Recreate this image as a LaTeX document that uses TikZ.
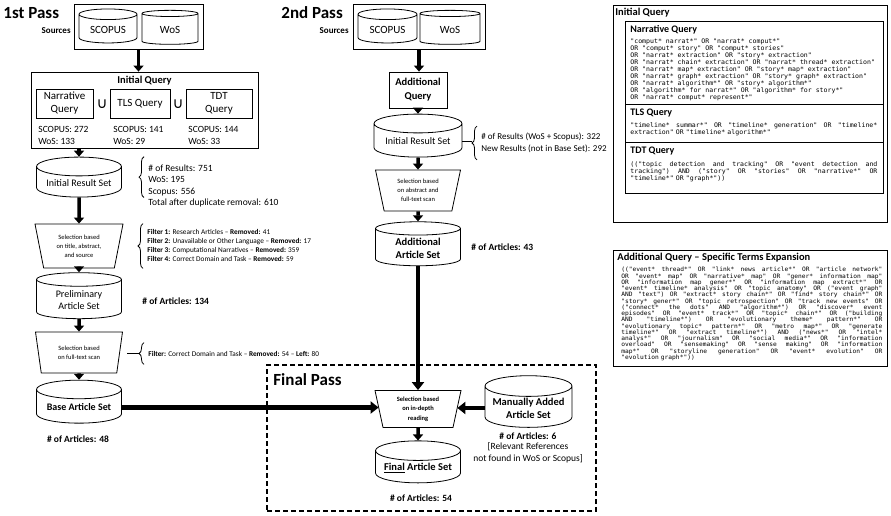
\documentclass[tikz,border=0pt]{standalone}
\usepackage{fontspec}
\setmainfont{Carlito}
\setmonofont{DejaVu Sans Mono}[FakeStretch=1.04]
\newfontfamily\cupfont{DejaVu Sans}
\usetikzlibrary{shapes.geometric,arrows.meta,decorations.pathreplacing,fit}

\newcommand{\fs}[2]{\fontsize{#1}{#2}\selectfont}
\newcommand{\qline}[1]{\leavevmode\hbox to \linewidth{\spaceskip=.6em plus 1fil\xspaceskip=\spaceskip\relax #1}}

\tikzset{
  dbset/.style={cylinder, shape border rotate=90, aspect=0.28, draw, align=center, inner sep=1pt, font=\fs{10}{12}},
  selbox/.style={trapezium, shape border rotate=180, trapezium stretches body, draw, align=center, inner sep=0pt, font=\fs{6.5}{9}},
  qbox/.style={draw, align=center, inner sep=1pt, minimum height=29, font=\fs{11}{13}},
  cupsym/.style={inner sep=0pt, font=\cupfont\fs{15}{15}},
  cntlabel/.style={anchor=west, align=left, inner sep=0pt, font=\fs{9.5}{11.5}},
  infotext/.style={align=left, inner sep=0pt, font=\fs{9.5}{11.5}},
  filtext/.style={align=left, inner sep=0pt, font=\fs{7.3}{9.2}},
  boldinfo/.style={inner sep=0pt, font=\bfseries\fs{9.5}{11.5}},
  passtitle/.style={anchor=west, inner sep=0pt, font=\bfseries\fs{17}{20}},
  srclabel/.style={anchor=east, inner sep=0pt, font=\bfseries\fs{9}{11}},
  qtitle/.style={anchor=west, inner sep=0pt, font=\bfseries\fs{10}{12}},
  qrytext/.style={anchor=north west, align=left, inner sep=0pt, font=\ttfamily\fs{6.3}{7}},
  flowarrow/.style={-{Triangle[length=6pt,width=10pt]}, line width=3.5pt},
  bigarrow/.style={-{Triangle[length=8pt,width=12pt]}, line width=4.5pt},
  infobrace/.style={decorate, decoration={brace, amplitude=5pt}},
  finalframe/.style={draw, line width=1.6pt, dash pattern=on 5pt off 3pt},
}

\begin{document}
\begin{tikzpicture}[x=1pt, y=-1pt, line width=0.8pt]
\useasboundingbox (0,0) rectangle (891,516);

% 1st pass
\node[passtitle] (pass1) at (3,13) {1st Pass};
\node[srclabel] (srclbl1) at (71,31) {Sources};
\node[dbset, minimum width=58, minimum height=34, font=\fs{11}{13}] (scopus1) at (108,29.5) {SCOPUS};
\node[dbset, minimum width=56, minimum height=34, font=\fs{11}{13}] (wos1) at (170,29.5) {WoS};
\node[draw, fit=(scopus1)(wos1), inner sep=4.5pt] (src1) {};

\node[draw, minimum width=227, minimum height=76] (iq1) at (144.5,110) {};
\node[font=\bfseries\fs{10.5}{12}, inner sep=0pt] (iq1title) at (144.5,81) {Initial Query};
\node[qbox, minimum width=57] (narr1) at (64.5,103.5) {Narrative\\Query};
\node[cupsym] (cup1) at (102,104) {∪};
\node[qbox, minimum width=60] (tls1) at (140,103.5) {TLS Query};
\node[cupsym] (cup2) at (178,104) {∪};
\node[qbox, minimum width=66] (tdt1) at (219,103.5) {TDT\\Query};
\node[cntlabel] (narr1cnt) at (38,135.5) {SCOPUS: 272\\WoS: 133};
\node[cntlabel] (tls1cnt) at (113,135.5) {SCOPUS: 141\\WoS: 29};
\node[cntlabel] (tdt1cnt) at (188,135.5) {SCOPUS: 144\\WoS: 33};

\node[dbset, minimum width=85, minimum height=40] (res1) at (79,183) {Initial Result Set};
\node[selbox, trapezium angle=69, minimum width=88, minimum height=44] (selta) at (79,246) {Selection based\\on title, abstract,\\and source};
\node[dbset, minimum width=85, minimum height=46] (pre1) at (79,300) {Preliminary\\Article Set};
\node[selbox, trapezium angle=67, minimum width=87, minimum height=41] (selft) at (79,352.5) {Selection based\\on full-text scan};
\node[dbset, font=\bfseries\fs{10}{12}, minimum width=85, minimum height=43] (base1) at (79,407.5) {Base Article Set};
\node[boldinfo] (base1cnt) at (78,439) {\# of Articles: 48};

\node[infotext, anchor=west] (res1info) at (148,186) {\# of Results: 751\\WoS: 195\\Scopus: 556\\Total after duplicate removal: 610};
\node[filtext, anchor=west] (seltainfo) at (147,245.5) {\textbf{Filter 1:} Research Articles -- \textbf{Removed:} 41\\
  \textbf{Filter 2:} Unavailable or Other Language -- \textbf{Removed:} 17\\
  \textbf{Filter 3:} Computational Narratives -- \textbf{Removed:} 359\\
  \textbf{Filter 4:} Correct Domain and Task -- \textbf{Removed:} 59};
\node[boldinfo, anchor=west] (pre1cnt) at (142,301) {\# of Articles: 134};
\node[filtext, anchor=west, minimum height=21] (selftinfo) at (148,353.5) {\textbf{Filter:} Correct Domain and Task -- \textbf{Removed:} 54 -- \textbf{Left:} 80};

\draw[infobrace] ([xshift=-4pt]res1info.west |- res1.south) -- ([xshift=-4pt]res1info.west |- res1.north);
\draw[infobrace] ([xshift=-4pt]seltainfo.west |- selta.south) -- ([xshift=-4pt]seltainfo.west |- selta.north);
\draw[infobrace] ([xshift=-4pt]selftinfo.south west) -- ([xshift=-4pt]selftinfo.north west);
\coordinate (selftstub) at (127,353.5);
\draw (selftstub) -- ([xshift=-9pt]selftinfo.west);

\draw[flowarrow] (src1.south) -- (src1.south |- iq1.north);
\draw[flowarrow] (res1.north |- iq1.south) -- (res1.north);
\draw[flowarrow] (res1.south) -- (selta.north);
\draw[flowarrow] (selta.south) -- (pre1.north);
\draw[flowarrow] (pre1.south) -- (selft.north);
\draw[flowarrow] (selft.south) -- (base1.north);

% 2nd pass
\node[passtitle] (pass2) at (281,13) {2nd Pass};
\node[srclabel] (srclbl2) at (349,31) {Sources};
\node[dbset, minimum width=59, minimum height=34, font=\fs{11}{13}] (scopus2) at (387.5,29.5) {SCOPUS};
\node[dbset, minimum width=60, minimum height=34, font=\fs{11}{13}] (wos2) at (450,29.5) {WoS};
\node[draw, fit=(scopus2)(wos2), inner sep=4.5pt] (src2) {};
\node[qbox, font=\bfseries\fs{10.5}{14}, minimum width=58, minimum height=36] (aq2) at (418,90) {Additional\\Query};
\node[dbset, minimum width=88, minimum height=43] (res2) at (418,141.5) {Initial Result Set};
\node[infotext, anchor=west, minimum height=33, font=\fs{9}{11.5}] (res2info) at (481,143) {\# of Results (WoS + Scopus): 322\\New Results (not in Base Set): 292};
\coordinate (res2tip) at ([xshift=-9pt]res2info.west);
\draw[infobrace] ([xshift=-4pt]res2info.south west) -- ([xshift=-4pt]res2info.north west);
\draw (res2.east) -- (res2.east -| res2tip);
\node[selbox, trapezium angle=69, minimum width=85, minimum height=41] (selab) at (418,190.5) {Selection based\\on abstract and\\full-text scan};
\node[dbset, font=\bfseries\fs{10.5}{13}, minimum width=85, minimum height=44] (add2) at (418,248) {Additional\\Article Set};
\node[boldinfo, anchor=west] (add2cnt) at (471,247) {\# of Articles: 43};

\draw[flowarrow] (src2.south) -- (src2.south |- aq2.north);
\draw[flowarrow] (aq2.south) -- (res2.north);
\draw[flowarrow] (res2.south) -- (selab.north);
\draw[flowarrow] (selab.south) -- (add2.north);

% final pass
\node[finalframe, minimum width=329, minimum height=146] (finalbox) at (431.5,438) {};
\node[passtitle] (passfin) at (273,380) {Final Pass};
\node[selbox, font=\bfseries\fs{6.5}{9.5}, trapezium angle=72, minimum width=86, minimum height=37] (selid) at (418,409) {Selection based\\on in-depth\\reading};
\node[dbset, font=\bfseries\fs{10.5}{13}, minimum width=87, minimum height=41] (man3) at (528.5,408) {Manually Added\\Article Set};
\node[boldinfo] (man3cnt) at (528,436) {\# of Articles: 6};
\node[infotext, align=center] (man3note) at (528,453) {[Relevant References\\not found in WoS or Scopus]};
\node[dbset, font=\bfseries\fs{10.5}{13}, minimum width=85, minimum height=42] (final3) at (418,468) {\underline{Final} Article Set};
\node[boldinfo] (final3cnt) at (421,498) {\# of Articles: 54};

\draw[bigarrow] (add2.south) -- (add2.south |- selid.north);
\draw[bigarrow] (base1.east) -- (base1.east -| selid.west);
\draw[bigarrow] (man3.west) -- (man3.west -| selid.east);
\draw[flowarrow] (selid.south) -- (final3.north);

% query boxes
\node[draw, minimum width=274, minimum height=217, anchor=north west] (iqbox) at (613,5) {};
\node[qtitle, font=\bfseries\fs{10.5}{12}] (iqboxtitle) at (615,13) {Initial Query};
\node[draw, minimum width=258, minimum height=172, anchor=north west] (qstack) at (625,21) {};
\node[qtitle] (narrtitle) at (630,30) {Narrative Query};
\node[qrytext] (narrtext) at (630,38) {"comput* narrat*" OR "narrat* comput*"\\
OR "comput* story" OR "comput* stories"\\
OR "narrat* extraction" OR "story* extraction"\\
OR "narrat* chain* extraction" OR "narrat* thread* extraction"\\
OR "narrat* map* extraction" OR "story* map* extraction"\\
OR "narrat* graph* extraction" OR "story* graph* extraction"\\
OR "narrat* algorithm*" OR "story* algorithm*"\\
OR "algorithm* for narrat*" OR "algorithm* for story*"\\
OR "narrat* comput* represent*"};
\coordinate (sep1) at (625,104);
\draw (sep1) -- (sep1 -| qstack.east);
\node[qtitle] (tlstitle) at (630,113) {TLS Query};
\node[qrytext, text width=247] (tlstext) at (630,122.5) {\qline{"timeline* summar*" OR "timeline* generation" OR "timeline*}\\
extraction" OR "timeline* algorithm*"};
\coordinate (sep2) at (625,142);
\draw (sep2) -- (sep2 -| qstack.east);
\node[qtitle] (tdttitle) at (630,151) {TDT Query};
\node[qrytext, text width=247] (tdttext) at (630,161.5) {\qline{(("topic detection and tracking" OR "event detection and}\\
\qline{tracking") AND ("story" OR "stories" OR "narrative*" OR}\\
"timeline*" OR "graph*"))};

\node[draw, minimum width=274, minimum height=116, anchor=north west] (addbox) at (613,250) {};
\node[qtitle, font=\bfseries\fs{10.5}{12}] (addtitle) at (617,258) {Additional Query -- Specific Terms Expansion};
\node[qrytext, text width=261, font=\ttfamily\fs{6}{6.25}] (addtext) at (621,267) {\qline{(("event* thread*" OR "link* news article*" OR "article network"}\\
\qline{OR "event* map" OR "narrative* map" OR "gener* information map"}\\
\qline{OR "information map gener*" OR "information map extract*" OR}\\
\qline{"event* timeline* analysis" OR "topic anatomy" OR ("event graph"}\\
\qline{AND "text") OR "extract* story chain*" OR "find* story chain*" OR}\\
\qline{"story* gener*" OR "topic retrospection" OR "track new events" OR}\\
\qline{("connect* the dots" AND "algorithm*") OR "discover* event}\\
\qline{episodes" OR "event* track*" OR "topic* chain*" OR ("building}\\
\qline{AND "timeline*") OR "evolutionary theme* pattern*" OR}\\
\qline{"evolutionary topic* pattern*" OR "metro map*" OR "generate}\\
\qline{timeline*" OR "extract timeline*") AND ("news*" OR "intel*}\\
\qline{analys*" OR "journalism" OR "social media*" OR "information}\\
\qline{overload" OR "sensemaking" OR "sense making" OR "information}\\
\qline{map*" OR "storyline generation" OR "event* evolution" OR}\\
"evolution graph*"))};
\end{tikzpicture}
\end{document}
